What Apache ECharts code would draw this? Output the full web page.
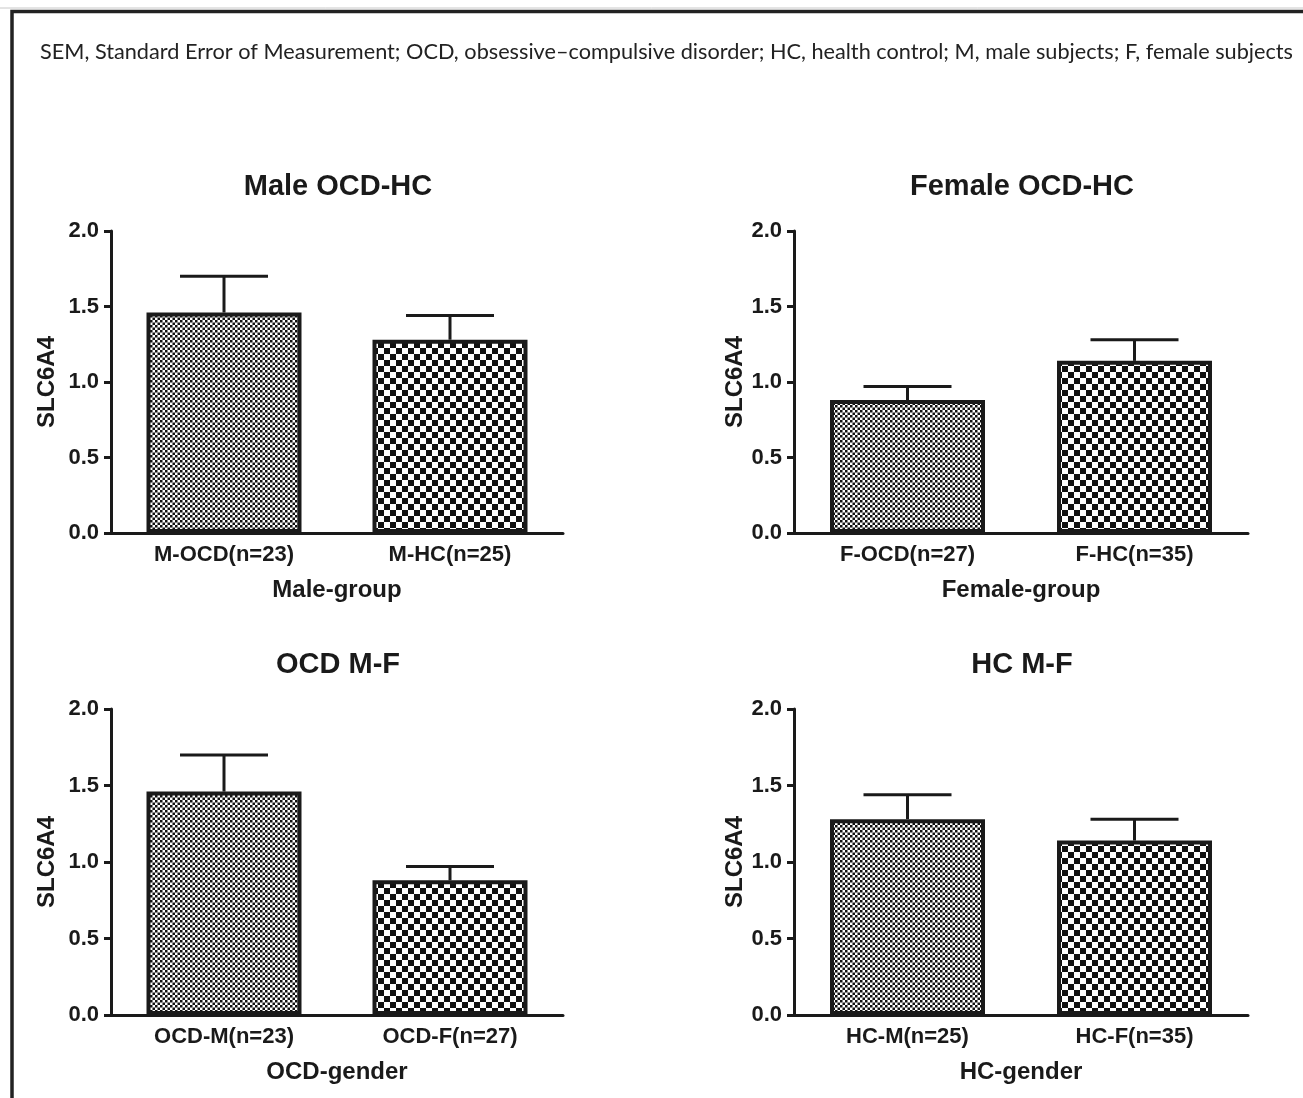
<!DOCTYPE html>
<html>
<head>
<meta charset="utf-8">
<script src="https://cdn.jsdelivr.net/npm/echarts@6/dist/echarts.min.js"></script>
<style>
html,body{margin:0;padding:0;background:#fff;}
#c{width:1303px;height:1098px;}
</style>
</head>
<body>
<div id="c"></div>
<script>
// ---- data ----
const headerText = 'SEM, Standard Error of Measurement; OCD, obsessive\u2013compulsive disorder; HC, health control; M, male subjects; F, female subjects';
const panelTitles = ['Male OCD-HC', 'Female OCD-HC', 'OCD M-F', 'HC M-F'];
const panelXNames = ['Male-group', 'Female-group', 'OCD-gender', 'HC-gender'];
const yAxisName = 'SLC6A4';
const yTicks = [0, 0.5, 1.0, 1.5, 2.0];

const maleCats = ['M-OCD(n=23)', 'M-HC(n=25)'];
const maleMeans = [1.46, 1.28];
const maleErrTop = [1.70, 1.44];

const femaleCats = ['F-OCD(n=27)', 'F-HC(n=35)'];
const femaleMeans = [0.88, 1.14];
const femaleErrTop = [0.97, 1.28];

const ocdCats = ['OCD-M(n=23)', 'OCD-F(n=27)'];
const ocdMeans = [1.46, 0.88];
const ocdErrTop = [1.70, 0.97];

const hcCats = ['HC-M(n=25)', 'HC-F(n=35)'];
const hcMeans = [1.28, 1.14];
const hcErrTop = [1.44, 1.28];

const panelCats = [maleCats, femaleCats, ocdCats, hcCats];
const panelMeans = [maleMeans, femaleMeans, ocdMeans, hcMeans];
const panelErrTop = [maleErrTop, femaleErrTop, ocdErrTop, hcErrTop];

// ---- layout / style ----
const INK = '#1a1a1a';
const FONT = '"Liberation Sans", Arial, sans-serif';
const grids = [
  {left: 111, top: 231, width: 452, height: 302},
  {left: 794, top: 231, width: 454, height: 302},
  {left: 111, top: 709, width: 452, height: 306},
  {left: 794, top: 709, width: 454, height: 306}
];
const yNameGaps = [52, 44, 52, 44];

function checker(cell, tiles) {
  const c = document.createElement('canvas');
  const size = Math.round(cell * 2 * tiles);
  c.width = size; c.height = size;
  const ctx = c.getContext('2d');
  ctx.fillStyle = '#ffffff';
  ctx.fillRect(0, 0, size, size);
  ctx.fillStyle = '#111111';
  const n = tiles * 2;
  for (let i = 0; i < n; i++) {
    for (let j = 0; j < n; j++) {
      if ((i + j) % 2 === 0) ctx.fillRect(i * cell, j * cell, cell, cell);
    }
  }
  return c;
}
const finePattern = {image: checker(2.5, 2), repeat: 'repeat'};
const coarsePattern = {image: checker(6, 1), repeat: 'repeat'};

const chart = echarts.init(document.getElementById('c'), null, {renderer: 'canvas'});

const xAxes = [], yAxes = [], series = [], graphics = [];
for (let i = 0; i < 4; i++) {
  const g = grids[i];
  graphics.push({
    type: 'text',
    x: g.left + g.width / 2 + 1,
    y: g.top - 44,
    style: {text: panelTitles[i], fontFamily: FONT, fontWeight: 'bold', fontSize: 29, fill: INK,
      align: 'center', verticalAlign: 'middle'}
  });
  xAxes.push({
    type: 'category',
    gridIndex: i,
    data: panelCats[i],
    name: panelXNames[i],
    nameLocation: 'middle',
    nameGap: 45,
    nameTextStyle: {fontFamily: FONT, fontWeight: 'bold', fontSize: 24, color: INK},
    axisLine: {lineStyle: {color: INK, width: 3}},
    axisTick: {alignWithLabel: true, length: 8, lineStyle: {color: INK, width: 3}},
    axisLabel: {margin: 11, fontFamily: FONT, fontWeight: 'bold', fontSize: 22, color: INK},
    splitLine: {show: false}
  });
  yAxes.push({
    type: 'value',
    gridIndex: i,
    min: 0,
    max: 2,
    interval: 0.5,
    name: yAxisName,
    nameLocation: 'middle',
    nameGap: yNameGaps[i],
    nameTextStyle: {fontFamily: FONT, fontWeight: 'bold', fontSize: 24, color: INK},
    axisLine: {show: true, lineStyle: {color: INK, width: 3}},
    axisTick: {show: true, length: 7, lineStyle: {color: INK, width: 3}},
    axisLabel: {margin: 12, fontFamily: FONT, fontWeight: 'bold', fontSize: 22, color: INK,
      formatter: v => v.toFixed(1)},
    splitLine: {show: false}
  });
  series.push({
    type: 'bar',
    xAxisIndex: i,
    yAxisIndex: i,
    barWidth: 155,
    data: panelMeans[i].map((v, k) => ({
      value: v,
      itemStyle: {color: k === 0 ? finePattern : coarsePattern}
    })),
    itemStyle: {borderColor: INK, borderWidth: 4},
    z: 3,
    silent: true
  });
  series.push({
    type: 'custom',
    xAxisIndex: i,
    yAxisIndex: i,
    data: panelMeans[i].map((v, k) => [k, v, panelErrTop[i][k]]),
    renderItem: function (params, api) {
      const x = api.value(0), m = api.value(1), t = api.value(2);
      const p0 = api.coord([x, m]);
      const p1 = api.coord([x, t]);
      const st = {stroke: INK, lineWidth: 3};
      return {
        type: 'group',
        children: [
          {type: 'line', shape: {x1: p0[0], y1: p0[1], x2: p1[0], y2: p1[1]}, style: st},
          {type: 'line', shape: {x1: p1[0] - 44, y1: p1[1], x2: p1[0] + 44, y2: p1[1]}, style: st}
        ]
      };
    },
    z: 2,
    silent: true
  });
}

graphics.push(
  {type: 'line', shape: {x1: 0, y1: 8, x2: 1303, y2: 8}, style: {stroke: '#c8c8c8', lineWidth: 1}},
  {type: 'polyline', shape: {points: [[12, 1098], [12, 11.5], [1303, 11.5]]}, style: {stroke: '#222', lineWidth: 3.5, fill: null}},
  {type: 'text', x: 40, y: 52, style: {text: headerText, fontFamily: 'Lato, "Open Sans", sans-serif', fontSize: 21.7, fill: '#222', verticalAlign: 'middle'}}
);

chart.setOption({
  backgroundColor: '#ffffff',
  animation: false,
  grid: grids,
  xAxis: xAxes,
  yAxis: yAxes,
  series: series,
  graphic: graphics
});
</script>
</body>
</html>
